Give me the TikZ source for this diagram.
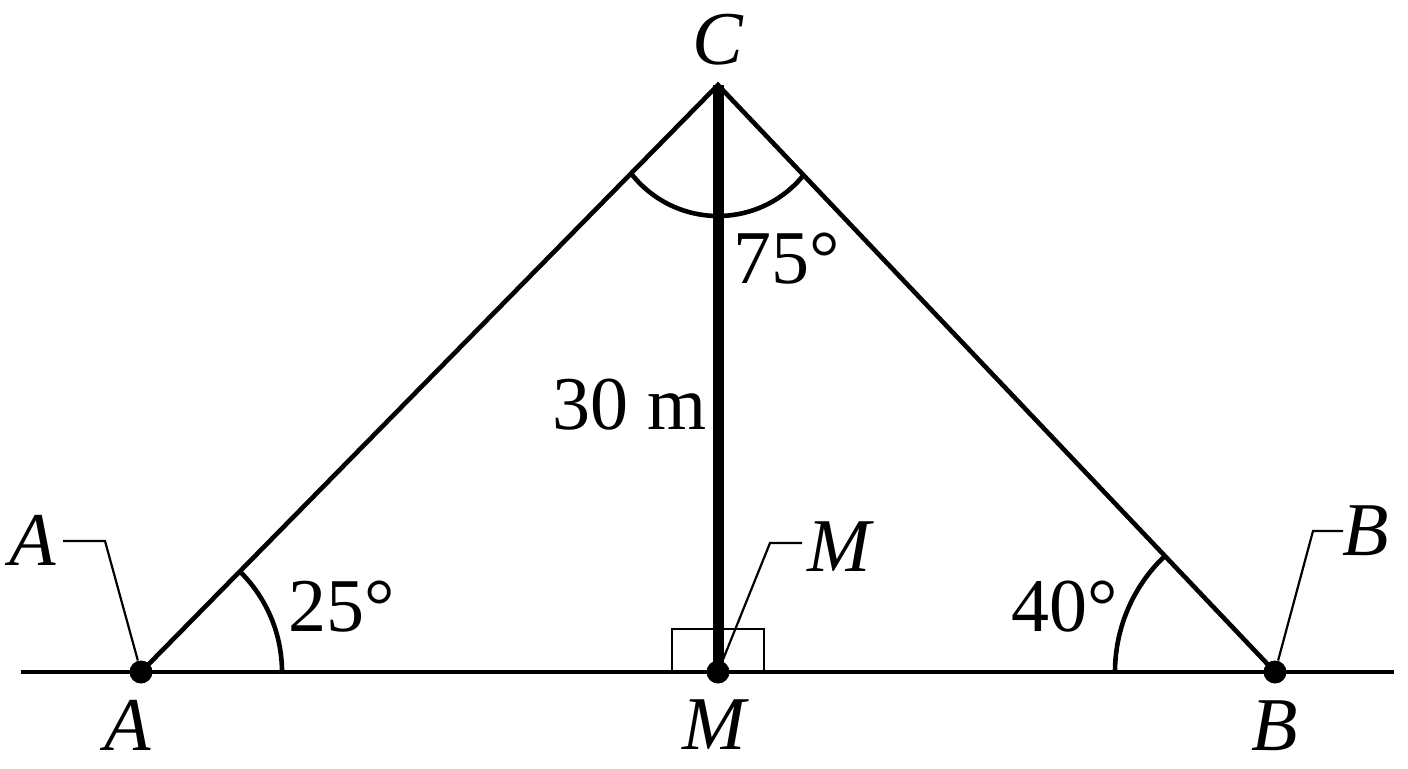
\documentclass[tikz,border=0pt]{standalone}
\usepackage{fontspec}
\setmainfont{Liberation Serif}
\usepackage{tikz}
\usetikzlibrary{positioning, calc}

\begin{document}
\begin{tikzpicture}[x=0.5pt, y=0.5pt,
    line/.style={line width=2.3pt},
    pole/.style={line width=5.5pt},
    leader/.style={line width=1.1pt},
    dot/.style={circle, fill, inner sep=0pt, minimum size=11.5pt},
    lbl/.style={font=\fontsize{38}{40}\selectfont, inner sep=0pt},
    pt/.style={lbl, font=\fontsize{38}{40}\selectfont\itshape}]
      \useasboundingbox (0,0) rectangle (1408,768);
      % ground and points
      \coordinate (gl) at (21,96);
      \coordinate (gr) at (1394,96);
      \coordinate (C) at (718,683);
      \draw[line] (gl) -- (gr);
      \node[dot] (A) at (141,96) {};
      \node[dot] (M) at (718,96) {};
      \node[dot] (B) at (1275,96) {};
      % triangle and pole
      \draw[line, line join=miter] (A.center) -- (C) -- (B.center);
      \draw[pole] (C) -- (M.center);
      \draw[leader] (672,96) rectangle (764,139);
      % angle marks
      \draw[line] ($(A.center)+(141,0)$) arc[start angle=0, end angle=45.5, radius=141];
      \draw[line] ($(B.center)+(-160,0)$) arc[start angle=180, end angle=133.5, radius=160];
      \draw[line] ($(718,662)+(218:110)$) arc[start angle=218, end angle=322, radius=110];
      % labels
      \node[pt] (lC) at (718,728) {C};
      \node[pt] (lA) at (128,43) {A};
      \node[pt] (lM) at (714,43) {M};
      \node[pt] (lB) at (1275,42) {B};
      \node[lbl] at (342,161) {25°};
      \node[lbl] at (1065,161) {40°};
      \node[lbl] at (787,509) {75°};
      \node[lbl] at (630,363) {30 m};
      % callouts
      \node[pt] (cA) at (33,228) {A};
      \node[pt] (cM) at (839,221) {M};
      \node[pt] (cB) at (1366,237) {B};
      \draw[leader] (63,227) -- (105,227) -- (A);
      \draw[leader] (802,225) -- (770,225) -- (M);
      \draw[leader] (1343,237) -- (1313,237) -- (B);
\end{tikzpicture}
\end{document}
